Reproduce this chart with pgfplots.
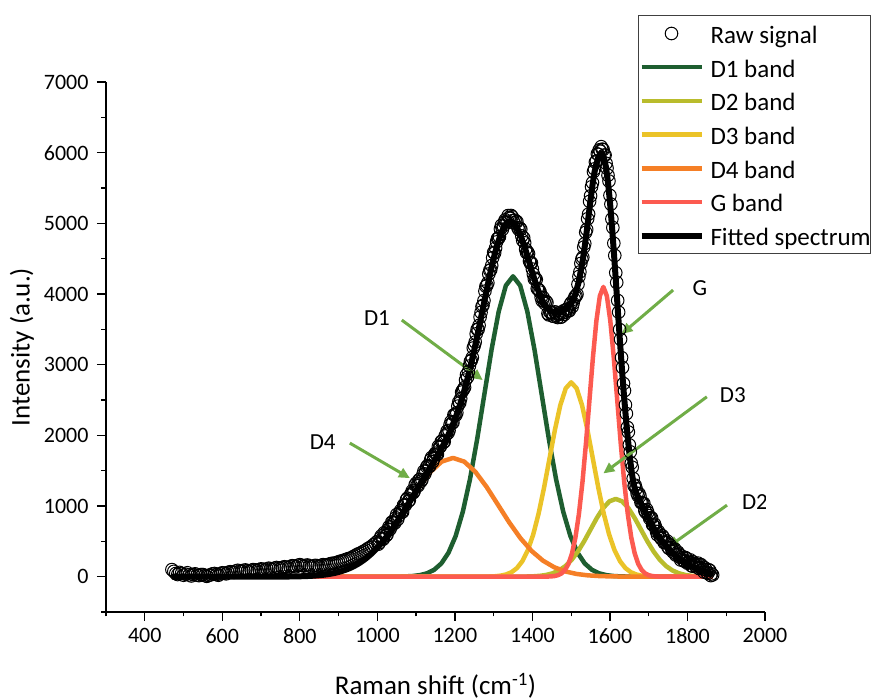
\documentclass[border=0pt]{standalone}
\usepackage{fontspec}
\setmainfont{Carlito}
\usepackage{pgfplots}
\pgfplotsset{compat=1.18}
\usetikzlibrary{arrows.meta}
\definecolor{cD1}{RGB}{30,94,48}
\definecolor{cD2}{RGB}{185,188,44}
\definecolor{cD3}{RGB}{235,195,40}
\definecolor{cD4}{RGB}{245,127,38}
\definecolor{cG}{RGB}{252,90,80}
\definecolor{arrowgreen}{RGB}{112,173,71}
\pgfplotsset{
  linelegend/.style={legend image code/.code={\draw[##1] (0pt,0pt) -- (60pt,0pt);}},
  rawlegend/.style={legend image code/.code={\draw[##1] plot coordinates {(30pt,0pt)};}},
  bandline/.style={line width=4.5pt, line join=round},
  rawmark/.style={only marks, mark=o, mark size=6.3pt, mark options={line width=1pt, draw=black, fill=none}},
}
\begin{document}
\begin{tikzpicture}
\path[use as bounding box] (-106pt,-88pt) rectangle (765pt,612pt);
\begin{axis}[
  at={(0pt,0pt)}, anchor=south west,
  scale only axis, width=659pt, height=530pt,
  xmin=300, xmax=2000, ymin=-500, ymax=7000,
  axis x line*=bottom, axis y line*=left,
  axis line style={line width=1.3pt},
  xtick={400,600,...,2000}, minor xtick={300,500,...,1900},
  ytick={0,1000,...,7000}, minor ytick={-500,500,...,6500},
  tick align=outside,
  major tick length=9pt, minor tick length=4.5pt,
  every tick/.style={line width=1.3pt, black},
  tick label style={font=\fontsize{22}{26}\selectfont},
  /pgf/number format/assume math mode=true,
  /pgf/number format/1000 sep={},
  xticklabel style={yshift=-4pt},
  yticklabel style={xshift=-5pt},
  xlabel={Raman shift (cm\textsuperscript{-1})},
  ylabel={Intensity (a.u.)},
  label style={font=\fontsize{27}{32}\selectfont},
  x label style={at={([yshift=-74pt]axis description cs:0.5,0)}, anchor=center},
  y label style={at={([xshift=-84pt]axis description cs:0,0.5)}, anchor=center},
  legend style={at={(axis description cs:0.8073,1.1264)}, anchor=north west,
    draw=black!75, line width=1pt, fill=white,
    inner xsep=0pt, inner ysep=7pt,
    font=\fontsize{25}{29}\selectfont,
    nodes={inner sep=0pt, text height=21pt, text depth=1pt},
    row sep=11.7pt,
    /tikz/every odd column/.append style={column sep=6pt}},
  legend cell align=left,
  linelegend,
]
\addplot[rawmark, rawlegend]
coordinates {
(470,100)(480,45)(490,60)(500,20)(510,55)(520,10)(530,40)(540,15)(550,30)(560,5)
(570,25)(580,45)(590,20)(600,55)(610,40)(620,70)(630,60)(640,90)(650,75)(660,95)
(670,70)(680,100)(690,85)(700,110)(710,95)(720,120)(730,100)(740,130)(750,115)(760,140)
(770,125)(780,155)(790,140)(800,170)(810,150)(820,165)(830,140)(840,160)(850,145)(860,170)
(870,165)(880,185)(890,190)(900,210)(910,225)(920,245)(930,260)(940,290)(950,320)(960,345)
(970,375)(980,410)(990,450)
(1000,499)(1005,480)(1010,576)(1015,530)(1020,608)(1025,595)(1030,706)(1035,704)(1040,773)(1045,759)
(1050,880)(1055,858)(1060,936)(1065,915)(1070,1008)(1075,1088)(1080,1068)(1085,1154)(1090,1214)(1095,1210)
(1100,1321)(1105,1286)(1110,1377)(1115,1372)(1120,1492)(1125,1497)(1130,1572)(1135,1562)(1140,1687)(1145,1668)
(1150,1748)(1155,1731)(1160,1828)(1165,1912)(1170,1897)(1175,1991)(1180,2060)(1185,2069)(1190,2194)(1195,2181)
(1200,2293)(1205,2320)(1210,2471)(1215,2518)(1220,2635)(1225,2678)(1230,2856)(1235,2901)(1240,3046)(1245,3101)
(1250,3272)(1255,3436)(1260,3499)(1265,3673)(1270,3822)(1275,3907)(1280,4108)(1285,4158)(1290,4333)(1295,4403)
(1300,4588)(1305,4651)(1310,4784)(1315,4810)(1320,4971)(1325,4960)(1330,5049)(1335,5008)(1340,5082)(1345,5111)
(1350,5040)(1355,5044)(1360,5023)(1365,4913)(1370,4917)(1375,4758)(1380,4724)(1385,4584)(1390,4569)(1395,4436)
(1400,4353)(1405,4212)(1410,4205)(1415,4066)(1420,4026)(1425,3905)(1430,3898)(1435,3896)(1440,3724)(1445,3745)
(1450,3740)(1455,3684)(1460,3743)(1465,3667)(1470,3716)(1475,3676)(1480,3761)(1485,3739)(1490,3786)(1495,3763)
(1500,3875)(1505,3869)(1510,3962)(1515,3997)(1520,4247)(1525,4433)(1530,4519)
(1532.5,4663)(1535,4713)(1537.5,4873)(1540,4913)(1542.5,5065)(1545,5131)(1547.5,5310)(1550,5388)(1552.5,5517)(1555,5575)
(1557.5,5730)(1560,5770)(1562.5,5865)(1565,5880)(1567.5,5983)(1570,5975)(1572.5,6040)(1575,6020)(1577.5,6085)(1580,6050)
(1582.5,6043)(1585,5965)(1587.5,5965)(1590,5850)(1592.5,5780)(1595,5680)(1597.5,5598)(1600,5395)(1602.5,5271)(1605,5062)
(1607.5,4940)(1610,4718)(1612.5,4545)(1615,4301)(1617.5,4163)(1620,3909)(1622.5,3743)(1625,3497)(1627.5,3359)(1630,3100)
(1632.5,2959)(1635,2733)(1637.5,2632)(1640,2431)(1642.5,2307)(1645,2113)(1647.5,2047)(1650,1865)(1652.5,1766)(1655,1606)
(1657.5,1548)(1660,1390)
(1665,1295)(1670,1180)(1675,1175)(1680,1050)(1685,1035)(1690,935)(1695,950)(1700,865)(1705,835)(1710,735)
(1715,745)(1720,641)(1725,640)(1730,560)(1735,580)(1740,480)(1745,490)(1750,415)(1755,448)(1760,380)
(1765,378)(1770,305)(1775,348)(1780,275)(1785,293)(1790,230)(1795,270)(1800,190)(1805,215)(1810,155)
(1815,208)(1820,160)(1825,172)(1830,115)(1835,170)(1840,110)(1845,125)(1850,60)(1855,97)(1860,15)(1862,40)(1865,25)
};
\addlegendentry{Raw signal}
\addplot[rawmark, forget plot]
coordinates {
(475,75)(485,30)(495,45)(505,35)(515,25)(525,30)(535,20)(545,30)(555,15)(565,20)
(575,40)(585,30)(595,40)(605,50)(615,60)(625,65)(635,80)(645,80)(655,90)(665,80)
(675,90)(685,95)(695,100)(705,105)(715,110)(725,110)(735,120)(745,125)(755,130)(765,135)
(775,140)(785,150)(795,160)(805,160)(815,160)(825,150)(835,150)(845,155)(855,160)(865,165)
(875,175)(885,190)(895,200)(905,220)(915,235)(925,255)(935,275)(945,305)(955,330)(965,360)
(975,395)(985,430)(995,475)
(1002.5,459)(1007.5,545)(1012.5,538)(1017.5,621)(1022.5,581)(1027.5,668)(1032.5,670)(1037.5,773)(1042.5,763)(1047.5,834)
(1052.5,811)(1057.5,904)(1062.5,913)(1067.5,1011)(1072.5,1015)(1077.5,1110)(1082.5,1081)(1087.5,1176)(1092.5,1187)(1097.5,1298)
(1102.5,1293)(1107.5,1369)(1112.5,1349)(1117.5,1444)(1122.5,1454)(1127.5,1554)(1132.5,1559)(1137.5,1654)(1142.5,1625)(1147.5,1720)
(1152.5,1732)(1157.5,1844)(1162.5,1842)(1167.5,1922)(1172.5,1909)(1177.5,2013)(1182.5,2034)(1187.5,2149)(1192.5,2172)(1197.5,2289)
(1202.5,2286)(1207.5,2413)(1212.5,2459)(1217.5,2611)(1222.5,2654)(1227.5,2782)(1232.5,2821)(1237.5,2981)(1242.5,3061)(1247.5,3236)
(1252.5,3321)(1257.5,3500)(1262.5,3556)(1267.5,3740)(1272.5,3840)(1277.5,4040)(1282.5,4123)(1287.5,4283)(1292.5,4343)(1297.5,4513)
(1302.5,4579)(1307.5,4737)(1312.5,4789)(1317.5,4920)(1322.5,4913)(1327.5,5017)(1332.5,5021)(1337.5,5110)(1342.5,5069)(1347.5,5093)
(1352.5,5007)(1357.5,5021)(1362.5,4938)(1367.5,4932)(1372.5,4822)(1377.5,4793)(1382.5,4634)(1387.5,4594)(1392.5,4467)(1397.5,4439)
(1402.5,4280)(1407.5,4223)(1412.5,4078)(1417.5,4053)(1422.5,3953)(1427.5,3951)(1432.5,3864)(1437.5,3877)(1442.5,3704)(1447.5,3735)
(1452.5,3687)(1457.5,3746)(1462.5,3695)(1467.5,3729)(1472.5,3671)(1477.5,3731)(1482.5,3710)(1487.5,3782)(1492.5,3767)(1497.5,3849)
(1502.5,3819)(1507.5,3928)(1512.5,3972)(1517.5,4137)(1522.5,4312)(1527.5,4493)
(1662.5,1285)(1667.5,1245)(1672.5,1145)(1677.5,1140)(1682.5,1042)(1687.5,1037)(1692.5,910)(1697.5,910)(1702.5,822)(1707.5,832)
(1712.5,727)(1717.5,703)(1722.5,593)(1727.5,607)(1732.5,537)(1737.5,557)(1742.5,485)(1747.5,505)(1752.5,399)(1757.5,416)
(1762.5,351)(1767.5,389)(1772.5,314)(1777.5,321)(1782.5,236)(1787.5,269)(1792.5,217)(1797.5,257)(1802.5,202)(1807.5,237)
(1812.5,149)(1817.5,186)(1822.5,138)(1827.5,191)(1832.5,130)(1837.5,150)(1842.5,65)(1847.5,100)(1852.5,46)(1857.5,88)
};
\addplot[bandline, cD1] coordinates {
(470,0)(1054,1.4)(1072.5,3.7)(1091,9.3)(1109.5,21.6)(1128,47.2)(1146.5,96.9)(1165,186.7)(1183.5,338.1)(1202,575.2)
(1220.5,919.1)(1239,1379.8)(1257.5,1945.8)(1276,2577.8)(1294.5,3208.1)(1313,3750.6)(1331.5,4119.2)(1350,4250)
(1368.5,4119.2)(1387,3750.6)(1405.5,3208.1)(1424,2577.8)(1442.5,1945.8)(1461,1379.8)(1479.5,919.1)(1498,575.2)
(1516.5,338.1)(1535,186.7)(1553.5,96.9)(1572,47.2)(1590.5,21.6)(1609,9.3)(1627.5,3.7)(1646,1.4)(1865,0)
};
\addlegendentry{D1 band}
\addplot[bandline, cD2] coordinates {
(470,0)(1355,0.4)(1371.25,1.0)(1387.5,2.4)(1403.75,5.6)(1420,12.2)(1436.25,25.1)(1452.5,48.3)(1468.75,87.5)(1485,148.9)
(1501.25,237.9)(1517.5,357.1)(1533.75,503.6)(1550,667.2)(1566.25,830.3)(1582.5,970.8)(1598.75,1066.2)(1615,1100)
(1631.25,1066.2)(1647.5,970.8)(1663.75,830.3)(1680,667.2)(1696.25,503.6)(1712.5,357.1)(1728.75,237.9)(1745,148.9)
(1761.25,87.5)(1777.5,48.3)(1793.75,25.1)(1810,12.2)(1826.25,5.6)(1842.5,2.4)(1858.75,1.0)(1865,0.7)
};
\addlegendentry{D2 band}
\addplot[bandline, cD3] coordinates {
(470,0)(1276,0.9)(1290,2.4)(1304,6.0)(1318,14.0)(1332,30.6)(1346,62.7)(1360,120.8)(1374,218.8)(1388,372.2)
(1402,594.7)(1416,892.8)(1430,1259.0)(1444,1668.0)(1458,2075.8)(1472,2426.9)(1486,2665.4)(1500,2750)
(1514,2665.4)(1528,2426.9)(1542,2075.8)(1556,1668.0)(1570,1259.0)(1584,892.8)(1598,594.7)(1612,372.2)
(1626,218.8)(1640,120.8)(1654,62.7)(1668,30.6)(1682,14.0)(1696,6.0)(1710,2.4)(1724,0.9)(1865,0)
};
\addlegendentry{D3 band}
\addplot[bandline, cD4] coordinates {
(470,0)(731,0.6)(760,1.5)(789,3.7)(818,8.6)(847,18.7)(876,38.3)(905,73.8)(934,133.7)(963,227.4)
(992,363.3)(1021,545.4)(1050,769.2)(1079,1019.0)(1108,1268.1)(1137,1482.6)(1166,1628.3)(1195,1680)
(1224,1628.3)(1253,1482.6)(1282,1268.1)(1311,1019.0)(1340,769.2)(1369,545.4)(1398,363.3)(1427,227.4)
(1456,133.7)(1485,73.8)(1514,38.3)(1543,18.7)(1572,8.6)(1601,3.7)(1630,1.5)(1659,0.6)(1865,0)
};
\addlegendentry{D4 band}
\addplot[bandline, cG] coordinates {
(470,0)(1439,1.4)(1448,3.6)(1457,9.0)(1466,20.9)(1475,45.6)(1484,93.4)(1493,180.2)(1502,326.2)(1511,554.9)
(1520,886.7)(1529,1331.1)(1538,1877.1)(1547,2486.8)(1556,3094.8)(1565,3618.3)(1574,3973.8)(1583,4100)
(1592,3973.8)(1601,3618.3)(1610,3094.8)(1619,2486.8)(1628,1877.1)(1637,1331.1)(1646,886.7)(1655,554.9)
(1664,326.2)(1673,180.2)(1682,93.4)(1691,45.6)(1700,20.9)(1709,9.0)(1718,3.6)(1727,1.4)(1865,0)
};
\addlegendentry{G band}
\addplot[line width=6pt, black, line join=round] coordinates {
(470,0)(740,0)(750,1)(760,1.5)(770,2)(780,2.8)(790,3.8)(800,5.1)(810,6.8)(820,9.0)(830,11.9)(840,15.5)
(850,20.1)(860,26.0)(870,33.1)(880,42.0)(890,53.0)(900,66.2)(910,82.2)(920,101.1)(930,123.6)(940,150.0)
(950,180.6)(960,215.9)(970,256.1)(980,301.7)(990,352.5)(1000,408.9)(1010,471.1)(1020,538.3)(1030,610.9)(1040,687.8)
(1050,770.4)(1060,855.6)(1070,943.4)(1080,1033.2)(1090,1124.1)(1100,1215.5)(1110,1306.5)(1120,1397.2)(1130,1487.1)(1140,1577.2)
(1150,1668.4)(1160,1762.6)(1170,1862.1)(1180,1969.9)(1190,2089.0)(1200,2223.4)(1210,2375.8)(1220,2549.6)(1230,2746.3)(1240,2965.8)
(1250,3206.9)(1260,3464.4)(1270,3732.2)(1280,4002.7)(1290,4263.4)(1300,4502.5)(1310,4708.8)(1320,4870.5)(1330,4978.5)(1340,5027.0)
(1350,5015.0)(1360,4943)(1370,4822)(1380,4664)(1390,4484)(1400,4298)(1410,4125)(1420,3976)(1430,3863)(1440,3789)
(1450,3750)(1460,3738)(1470,3746)(1480,3766)(1490,3801)(1500,3865)(1510,3982)(1520,4182)(1530,4484)
(1535,4673)(1540,4883)(1545,5106)(1550,5333)(1555,5540)(1560,5720)(1565,5840)(1570,5935)(1575,5985)(1580,5985)
(1585,5920)(1590,5790)(1595,5580)(1600,5305)(1605,4977)(1610,4603)(1615,4206)(1620,3799)(1625,3397)(1630,3010)
(1635,2648)(1640,2316)(1645,2018)(1650,1755)(1655,1526)(1660,1340)(1665,1230)(1670,1160)(1675,1100)(1680,1040)
(1685,985)(1690,930)(1695,880)(1700,830)(1705,775)(1710,720)(1715,665)(1720,611)(1725,575)(1730,540)
(1735,505)(1740,470)(1745,440)(1750,410)(1755,378)(1760,345)(1765,318)(1770,290)(1775,268)(1780,245)
(1785,228)(1790,210)(1795,195)(1800,180)(1805,165)(1810,150)(1815,138)(1820,125)(1825,112)(1830,100)
(1835,90)(1840,80)(1845,70)(1850,60)(1855,52)(1860,45)(1865,35)
};
\addlegendentry{Fitted spectrum}
\begin{scope}[arrowgreen, line width=3pt, -{Triangle[length=11pt,width=10pt]}]
\draw (axis cs:1063,3631) -- (axis cs:1272,2782);
\draw (axis cs:929,1890) -- (axis cs:1084,1394);
\draw (axis cs:1763,4056) -- (axis cs:1630,3433);
\draw (axis cs:1850,2545) -- (axis cs:1583,1461);
\draw (axis cs:1902,1012) -- (axis cs:1750,418);
\end{scope}
\begin{scope}[font=\fontsize{23}{27}\selectfont]
\node at (axis cs:999,3659) {D1};
\node at (axis cs:859,1904) {D4};
\node at (axis cs:1832,4084) {G};
\node at (axis cs:1917,2569) {D3};
\node at (axis cs:1974,1054) {D2};
\end{scope}
\end{axis}
\end{tikzpicture}
\end{document}
